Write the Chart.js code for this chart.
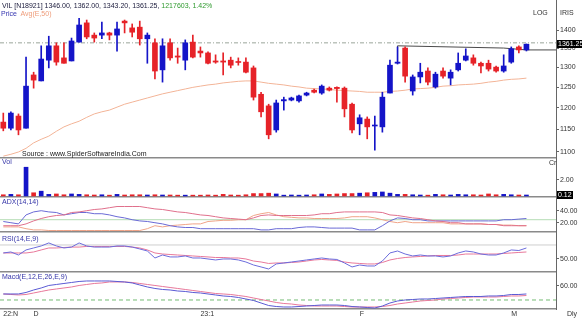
<!DOCTYPE html>
<html><head><meta charset="utf-8">
<script src="https://cdn.jsdelivr.net/npm/chart.js@4.4.1/dist/chart.umd.min.js"></script>
<style>
html,body{margin:0;padding:0;background:#fff}
body{width:582px;height:319px;overflow:hidden;position:relative;font-family:'Liberation Sans',Arial,sans-serif}
canvas{position:absolute;left:0}
.t{position:absolute;font-size:7px;line-height:8px;white-space:nowrap;z-index:5}
.box{position:absolute;left:557px;background:#000;color:#fff;font-size:7px;line-height:8px;padding:0 1px;white-space:nowrap;z-index:6}
</style></head><body>
<canvas id="cPrice" width="582" height="159" style="top:0"></canvas>
<canvas id="cVol" width="582" height="39" style="top:159px"></canvas>
<canvas id="cAdx" width="582" height="35" style="top:198px"></canvas>
<canvas id="cRsi" width="582" height="40" style="top:233px"></canvas>
<canvas id="cMacd" width="582" height="46" style="top:273px"></canvas>

<div class="t" style="left:2px;top:2px;color:#202040">VIL [N18921] 1346.00, 1362.00, 1343.20, 1361.25, <span style="color:#2f9a2f">1217603, 1.42%</span></div>
<div class="t" style="left:1px;top:10px"><span style="color:#3535b0">Price</span>&nbsp; <span style="color:#ee9c7a">Avg(E,50)</span></div>
<div class="t" style="left:22px;top:150px;color:#202020">Source : www.SpiderSoftwareIndia.Com</div>
<div class="t" style="left:533px;top:9px;color:#333">LOG</div>
<div class="t" style="left:560px;top:9px;color:#333">IRIS</div>
<div class="t" style="left:2px;top:158px;color:#3535a8">Vol</div>
<div class="t" style="left:549px;top:159px;color:#333">Cr</div>
<div class="t" style="left:2px;top:198px;color:#3535a8">ADX(14,14)</div>
<div class="t" style="left:2px;top:235px;color:#3535a8">RSI(14,E,9)</div>
<div class="t" style="left:2px;top:273px;color:#3535a8">Macd(E,12,E,26,E,9)</div>
<div class="t" style="left:567px;top:310px;color:#333">Dly</div>
<div class="box" id="lastBox"></div>
<div class="box" id="volBox"></div>

<script>
// ---------- DATA ----------
const OPEN  = [1167,1153,1181,1153,1281,1266,1319,1357,1325,1317,1367,1420,1386,1386,1392,1386,1425,1406,1408,1376,
               1365,1294,1365,1330,1319,1367,1343,1338,1317,1317,1319,1315,1314,1299,1233,1205,1149,1217,1219,1217,
               1231,1243,1236,1248,1250,1248,1209,1163,1174,1158,1156,1236,1311,1351,1241,1276,1291,1251,1291,1273,
               1294,1319,1325,1311,1311,1301,1291,1314,1354,1346];
const HIGH  = [1188,1191,1186,1327,1288,1357,1383,1365,1365,1378,1433,1428,1392,1422,1394,1422,1428,1417,1425,1392,
               1376,1376,1376,1351,1373,1386,1354,1341,1333,1338,1327,1325,1325,1304,1238,1209,1219,1226,1226,1231,
               1238,1246,1256,1251,1251,1251,1212,1184,1179,1181,1238,1319,1354,1354,1281,1311,1299,1288,1299,1294,
               1338,1349,1333,1314,1319,1304,1333,1354,1357,1362];
const LOW   = [1147,1149,1138,1153,1248,1266,1299,1306,1311,1317,1367,1376,1367,1376,1373,1343,1392,1381,1359,1311,
               1271,1263,1319,1311,1294,1325,1327,1309,1311,1281,1299,1306,1286,1219,1179,1129,1144,1195,1217,1214,
               1229,1236,1233,1241,1214,1179,1142,1138,1129,1104,1144,1236,1309,1263,1231,1261,1256,1248,1273,1256,
               1291,1317,1306,1286,1291,1288,1288,1311,1338,1343.2];
const CLOSE = [1153,1188,1149,1253,1268,1322,1357,1314,1311,1370,1414,1381,1378,1392,1386,1403,1420,1394,1376,1386,
               1291,1357,1325,1327,1365,1327,1338,1311,1314,1314,1306,1313,1288,1226,1191,1138,1212,1220,1224,1229,
               1236,1238,1253,1243,1247,1198,1149,1177,1156,1160,1226,1306,1314,1278,1276,1288,1263,1283,1278,1288,
               1311,1330,1311,1304,1296,1291,1304,1349,1346,1361.25];
const AVG50 = [1091,1095,1100,1108,1120,1128,1135,1146,1156,1163,1169,1178,1186,1191,1195,1202,1209,1214,1219,1224,
               1229,1234,1238,1242,1246,1250,1253,1256,1258,1261,1263,1265,1266,1266,1263,1260,1258,1256,1253,1251,
               1248,1247,1246,1245,1243,1242,1241,1240,1238,1238,1238,1240,1241,1243,1246,1247,1248,1250,1253,1254,
               1256,1257,1258,1260,1263,1265,1268,1270,1271,1273];
const TREND_X = [52, 52, 66, 69, 72.9];
const TREND_Y = [1311, 1357, 1351, 1346, 1346];
const LAST_LEVEL = 1365;

const VOLUME = [0.15,0.2,0.15,3.6,0.4,0.6,0.2,0.25,0.15,0.25,0.2,0.15,0.12,0.15,0.1,0.2,0.12,0.15,0.15,0.12,
                0.15,0.12,0.12,0.1,0.1,0.1,0.1,0.12,0.1,0.2,0.12,0.1,0.15,0.3,0.3,0.35,0.25,0.1,0.12,0.1,
                0.12,0.15,0.25,0.2,0.25,0.3,0.3,0.35,0.4,0.45,0.5,0.35,0.2,0.2,0.15,0.12,0.1,0.2,0.15,0.12,
                0.2,0.15,0.15,0.12,0.25,0.15,0.2,0.15,0.12,0.12];
const LAST_VOL = 0.12;

const ADX   = [15,15,15,18,23,27,30,32,33,37,38,40,42,43,45,47,47,47,47,45,
               43,42,40,38,37,35,33,32,30,28,27,26,25,28,32,33,32,32,32,32,
               32,33,35,35,37,38,38,38,38,38,37,33,32,30,28,27,25,23,22,20,
               20,18,18,18,17,17,15,15,15,15];
const PLUS_DI = [22,20,18,33,38,40,38,37,33,35,37,37,35,35,33,30,28,25,23,22,
                 20,18,15,13,12,12,10,10,10,10,10,10,10,10,8,8,10,10,10,12,
                 13,13,12,11,11,11,11,8,8,8,15,23,28,27,25,25,23,23,23,23,
                 23,23,23,23,23,23,25,25,26,27];
const MINUS_DI = [13,13,13,10,8,8,7,7,7,7,7,7,7,7,7,7,7,7,7,10,
                  15,13,15,16,17,18,18,22,23,24,24,25,25,32,35,37,33,30,29,28,
                  28,27,27,27,27,28,30,30,30,28,25,22,20,22,20,20,20,20,20,18,
                  18,18,18,18,17,17,16,16,15,15];
const ADX_LEVEL = 25;

const RSI = [58.6,60,55.7,62.9,65.7,68.6,72.9,68.6,65.7,67,72.9,68.6,67,67,67,68.6,68.6,67,64.3,61.4,
             51.4,55.7,52.9,52.9,54.3,51.4,51.4,50,48.6,50,50,48.6,45.7,41.4,38.6,35.7,42.9,44.3,45.7,47.1,
             48.6,50,51.4,50,49.3,44.3,38.6,41.4,40,40,47.1,58.6,61.4,57.1,54.3,55.7,54.3,54.3,52.9,54.3,
             58.6,61.4,60,57.1,55.7,55.7,58.6,62.9,62.1,65.7];
const RSI_AVG = [58.6,58.6,58.6,58.6,60,62.9,65.7,65.7,66.4,67,67,67.9,67.9,67.9,67.9,67.9,67.9,67,65.7,62.9,
                 58.6,57.1,56.4,55.7,55,54.3,53.6,52.9,52.1,52.1,51.4,51.4,50,47.1,45.7,43.6,44.3,44.3,45,45.7,
                 47.1,48.6,49.3,48.6,47.9,45.7,44.3,43.6,42.9,42.9,45,48.6,50.7,52.1,52.9,53.6,54.3,55,55,55,
                 55.7,57.1,57.1,57.1,57.1,57.1,57.9,58.6,59.3,60];
const RSI_LEVEL = 70;

const MACD = [25.8,25.8,25.8,32.2,42.9,51.5,62.2,66.5,70.8,75.1,79.4,81.5,81.5,81.5,81.5,79.4,77.3,73,64.4,55.8,
              49.4,45.1,42.9,38.6,36.5,32.2,30,25.8,21.5,17.2,15,10.7,4.3,-2.1,-12.9,-23.6,-27.9,-30,-30,-27.9,
              -25.8,-23.6,-21.5,-21.5,-21.5,-23.6,-27.9,-30,-32.2,-34.3,-25.8,-12.9,-4.3,0,2.1,4.3,4.3,6.4,8.6,10.7,
              12.9,15,15,15,17.2,17.2,19.3,23.6,23.6,25.8];
const MACD_SIGNAL = [25.8,23.6,21.5,23.6,30,36.5,42.9,47.2,51.5,55.8,62.2,66.5,70.8,73,77.3,77.3,77.3,75.1,70.8,66.5,
                     62.2,57.9,53.6,49.4,45.1,40.8,36.5,32.2,27.9,25.8,23.6,19.3,15,8.6,2.1,-4.3,-10.7,-15,-17.2,-21.5,
                     -23.6,-25.8,-25.8,-25.8,-25.8,-27.9,-30,-30,-30,-30,-27.9,-23.6,-17.2,-12.9,-8.6,-4.3,-2.1,0,4.3,6.4,
                     8.6,10.7,12.9,12.9,12.9,12.9,15,17.2,17.2,19.3];
const MACD_ZERO = 0;

const X_TICKS  = [0, 4, 26, 47, 67];
const X_LABELS = ['22:N', 'D', '23:1', 'F', 'M'];

const PRICE_TICKS = [1100,1150,1200,1250,1300,1350,1400];
const VOL_TICKS = [2];
const ADX_TICKS = [20, 40];
const RSI_TICKS = [50];
const MACD_TICKS = [60];

// ---------- CONFIG ----------
const X_MIN = -0.435, X_MAX = 72.9;
const FONT = {family: "'Liberation Sans', Arial, sans-serif", size: 7};
const UP = '#1414c8', DOWN = '#e62228';
const isUp = OPEN.map((o, i) => CLOSE[i] >= o);
const candleColors = isUp.map(u => u ? UP : DOWN);

function xScale(withLabels) {
  const s = {
    type: 'linear', min: X_MIN, max: X_MAX, offset: false, display: true,
    grid: {display: false, drawTicks: false},
    border: {display: true, color: '#8a8a8a', width: 1.5},
    ticks: {display: false},
    afterFit: sc => { sc.height = withLabels ? 10 : 1; sc.paddingLeft = 0; sc.paddingRight = 0; }
  };
  if (withLabels) {
    s.ticks = {display: true, font: FONT, color: '#333', padding: 1, align: 'start',
      autoSkip: false, maxRotation: 0, minRotation: 0,
      callback: v => { const k = X_TICKS.indexOf(v); return k >= 0 ? X_LABELS[k] : ''; }};
    s.afterBuildTicks = sc => { sc.ticks = X_TICKS.map(v => ({value: v})); };
  }
  return s;
}
function yScale(type, min, max, tickVals, fmt) {
  return {
    type, min, max, position: 'right',
    grid: {display: true, drawOnChartArea: false, drawTicks: true, tickLength: 3, color: '#666'},
    border: {display: true, color: '#666', width: 1},
    ticks: {font: FONT, color: '#333', padding: 1, autoSkip: false, callback: v => fmt(v)},
    afterBuildTicks: sc => { sc.ticks = tickVals.map(v => ({value: v})); },
    afterFit: sc => { sc.width = 26; sc.paddingTop = 0; sc.paddingBottom = 0; }
  };
}
const baseOpts = (scales) => ({
  responsive: false, animation: false, devicePixelRatio: 1,
  layout: {padding: 0},
  plugins: {legend: {display: false}, tooltip: {enabled: false}},
  scales
});
const pts = (arr) => arr.map((v, i) => ({x: i, y: v}));
const hline = (v, color, dash) => ({type: 'line', data: [{x: X_MIN, y: v}, {x: X_MAX, y: v}],
  borderColor: color, borderWidth: 1, borderDash: dash || [], pointRadius: 0, order: 9});
const lineDs = (arr, color) => ({type: 'line', data: pts(arr), borderColor: color, borderWidth: 1,
  pointRadius: 0, tension: 0, order: 5});

// ---------- PRICE ----------
const priceChart = new Chart(document.getElementById('cPrice'), {
  type: 'bar',
  data: {datasets: [
    {data: OPEN.map((o, i) => ({x: i, y: [Math.min(o, CLOSE[i]), Math.max(o, CLOSE[i])]})),
     backgroundColor: candleColors, barThickness: 5, minBarLength: 1, grouped: false, order: 1},
    {data: OPEN.map((o, i) => ({x: i, y: [LOW[i], HIGH[i]]})),
     backgroundColor: candleColors, barThickness: 1, grouped: false, order: 2},
    lineDs(AVG50, '#f3b497'),
    {type: 'line', data: TREND_X.map((x, i) => ({x, y: TREND_Y[i]})), borderColor: '#4a4a4a',
     borderWidth: 1, pointRadius: 0, order: 4},
    hline(LAST_LEVEL, '#9aa69a', [4, 2, 1, 2])
  ]},
  options: baseOpts({x: xScale(false), y: yScale('logarithmic', 1087, 1485.7, PRICE_TICKS, v => String(v))})
});

// ---------- VOLUME ----------
const volChart = new Chart(document.getElementById('cVol'), {
  type: 'bar',
  data: {datasets: [{data: pts(VOLUME), backgroundColor: candleColors, barThickness: 4, grouped: false}]},
  options: baseOpts({x: xScale(false), y: yScale('linear', -0.13, 4.63, VOL_TICKS, v => v.toFixed(2))})
});

// ---------- ADX ----------
new Chart(document.getElementById('cAdx'), {
  type: 'line',
  data: {datasets: [lineDs(ADX, '#e0708c'), lineDs(PLUS_DI, '#6a6ad6'), lineDs(MINUS_DI, '#f0a488'),
    hline(ADX_LEVEL, '#b5dcb5')]},
  options: baseOpts({x: xScale(false), y: yScale('linear', 4.5, 61.2, ADX_TICKS, v => v.toFixed(2))})
});

// ---------- RSI ----------
new Chart(document.getElementById('cRsi'), {
  type: 'line',
  data: {datasets: [lineDs(RSI, '#6c6cdc'), lineDs(RSI_AVG, '#e8789a'), hline(RSI_LEVEL, '#cfcfcf')]},
  options: baseOpts({x: xScale(false), y: yScale('linear', 31.4, 87.1, RSI_TICKS, v => v.toFixed(2))})
});

// ---------- MACD ----------
new Chart(document.getElementById('cMacd'), {
  type: 'line',
  data: {datasets: [lineDs(MACD, '#5a5ad4'), lineDs(MACD_SIGNAL, '#e8789a'), hline(MACD_ZERO, '#74bb74', [4, 3])]},
  options: baseOpts({x: xScale(true), y: yScale('linear', -38.6, 115.7, MACD_TICKS, v => v.toFixed(2))})
});

// value boxes positioned from the scales
const lb = document.getElementById('lastBox');
lb.textContent = CLOSE[CLOSE.length - 1].toFixed(2);
lb.style.top = (priceChart.scales.y.getPixelForValue(CLOSE[CLOSE.length - 1]) - 4) + 'px';
const vb = document.getElementById('volBox');
vb.textContent = LAST_VOL.toFixed(2);
vb.style.top = (159 + volChart.scales.y.getPixelForValue(LAST_VOL) - 4) + 'px';
</script>
</body></html>
